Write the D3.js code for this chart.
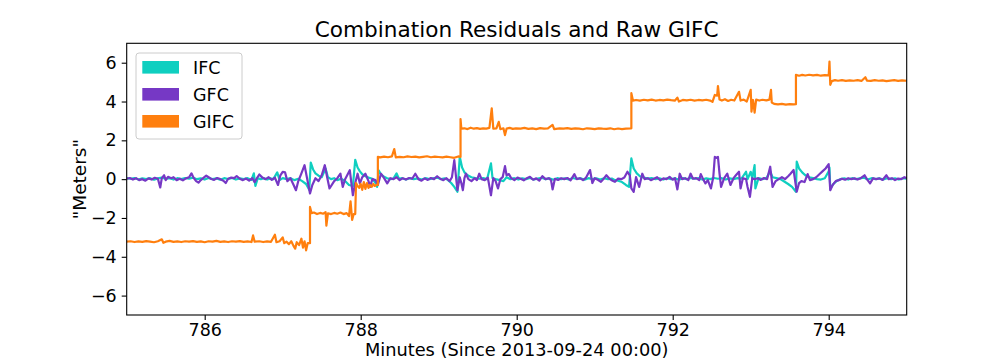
<!DOCTYPE html>
<html>
<head>
<meta charset="utf-8">
<script src="https://cdn.jsdelivr.net/npm/d3@7"></script>
<style>
  html, body { margin: 0; padding: 0; background: #fff; }
  svg { display: block; font-family: "DejaVu Sans", sans-serif; }
</style>
</head>
<body>
<svg id="chart" width="1008" height="360"></svg>
<script>
const xTicks = [786, 788, 790, 792, 794];
const yTicks = [-6, -4, -2, 0, 2, 4, 6];
const seriesNames = ["IFC", "GFC", "GIFC"];
const seriesColors = ["#0fcfc0", "#7638c5", "#ff7f0e"];

// [minute, meters]
const ifcData = [
[785.00,0.05],[785.05,0.02],[785.10,0.06],[785.15,-0.02],[785.20,0.04],[785.25,0.00],[785.30,0.05],[785.35,-0.03],[785.40,0.04],[785.45,0.08],
[785.50,0.02],[785.55,0.05],[785.60,-0.02],[785.65,0.05],[785.70,0.00],[785.75,0.06],[785.80,0.03],[785.85,0.08],[785.90,0.00],[785.95,0.04],
[786.00,-0.02],[786.05,0.06],[786.10,0.00],[786.15,0.04],[786.20,-0.03],[786.25,0.05],[786.30,0.01],[786.35,0.06],[786.40,-0.02],[786.45,0.04],
[786.50,0.00],[786.55,0.05],[786.60,-0.04],[786.63,0.30],[786.65,-0.35],[786.68,0.05],[786.72,0.00],[786.76,0.05],[786.80,-0.02],[786.84,0.04],
[786.88,0.00],[786.93,0.35],[786.96,-0.05],[787.00,0.05],[787.05,0.00],[787.10,0.05],[787.15,-0.05],[787.20,0.02],[787.25,-0.10],[787.30,-0.25],
[787.34,-0.55],[787.36,0.85],[787.39,0.50],[787.42,0.30],[787.46,0.18],[787.50,0.10],[787.55,0.55],[787.58,0.10],[787.62,0.00],[787.66,0.05],
[787.70,-0.05],[787.75,0.02],[787.80,-0.10],[787.85,-0.30],[787.90,-0.35],[787.93,1.00],[787.96,0.60],[787.99,0.40],[788.02,0.25],[788.06,0.15],
[788.10,0.08],[788.15,0.02],[788.19,-0.20],[788.21,-0.40],[788.23,0.45],[788.26,0.25],[788.30,0.12],[788.34,0.05],[788.38,0.00],[788.42,0.03],
[788.46,0.30],[788.49,0.02],[788.53,0.05],[788.58,-0.02],[788.63,0.05],[788.68,0.00],[788.73,0.04],[788.78,-0.02],[788.83,0.05],[788.88,0.00],
[788.93,0.04],[788.98,0.08],[789.03,0.00],[789.08,0.04],[789.12,-0.05],[789.16,-0.20],[789.20,-0.40],[789.24,-0.65],[789.27,1.15],[789.30,0.60],
[789.33,0.35],[789.37,0.20],[789.42,0.10],[789.47,0.05],[789.52,0.02],[789.57,0.05],[789.62,0.00],[789.67,0.81],[789.69,0.05],[789.73,0.00],
[789.78,-0.05],[789.83,-0.10],[789.87,0.10],[789.92,0.00],[789.97,0.05],[790.02,-0.02],[790.07,0.04],[790.12,0.00],[790.17,0.06],[790.22,-0.02],
[790.27,0.03],[790.32,0.07],[790.37,0.00],[790.42,0.04],[790.47,-0.03],[790.52,0.05],[790.57,0.00],[790.62,0.04],[790.67,-0.02],[790.72,0.06],
[790.77,0.01],[790.82,0.04],[790.87,-0.03],[790.92,0.05],[790.97,0.00],[791.02,0.04],[791.07,-0.02],[791.12,0.05],[791.17,0.00],[791.22,0.03],
[791.26,-0.05],[791.30,-0.08],[791.35,-0.15],[791.40,-0.30],[791.44,-0.40],[791.47,1.07],[791.50,0.55],[791.54,0.30],[791.58,0.15],[791.63,0.08],
[791.68,0.03],[791.73,0.05],[791.78,0.00],[791.83,0.04],[791.88,-0.02],[791.93,0.05],[791.98,0.00],[792.03,0.04],[792.08,-0.03],[792.13,0.05],
[792.18,0.00],[792.23,0.06],[792.28,0.02],[792.33,0.05],[792.38,-0.02],[792.43,0.04],[792.48,0.00],[792.53,0.06],[792.58,0.02],[792.63,0.05],
[792.68,-0.02],[792.73,0.04],[792.78,0.00],[792.83,0.05],[792.88,0.02],[792.94,0.38],[792.96,0.00],[793.00,0.38],[793.02,0.05],[793.05,0.72],
[793.06,-0.48],[793.10,0.05],[793.15,0.00],[793.20,0.05],[793.25,0.40],[793.28,0.10],[793.33,0.05],[793.38,0.00],[793.43,-0.12],[793.48,-0.25],
[793.53,-0.40],[793.58,-0.65],[793.59,0.90],[793.62,0.55],[793.66,0.35],[793.70,0.20],[793.75,0.10],[793.80,0.05],[793.85,0.00],[793.90,-0.02],
[793.95,0.05],[794.00,0.40],[794.01,0.60],[794.02,-0.50],[794.06,-0.25],[794.10,-0.10],[794.15,0.00],[794.20,0.04],[794.25,-0.02],[794.30,0.05],
[794.35,0.00],[794.40,0.04],[794.45,0.08],[794.50,-0.02],[794.55,0.05],[794.60,0.00],[794.65,0.04],[794.70,-0.02],[794.75,0.05],[794.80,0.00],
[794.85,0.04],[794.90,-0.02],[794.95,0.05],[795.00,0.02]
];

const gfcData = [
[785.00,0.02],[785.04,0.06],[785.08,-0.02],[785.12,0.05],[785.16,-0.05],[785.20,0.00],[785.24,-0.08],[785.28,0.04],[785.32,-0.02],[785.36,0.07],
[785.40,0.02],[785.43,-0.43],[785.45,0.05],[785.48,0.20],[785.50,-0.05],[785.53,0.12],[785.57,0.05],[785.60,0.10],[785.64,-0.05],[785.68,0.02],
[785.72,-0.06],[785.76,0.04],[785.80,0.10],[785.83,0.30],[785.86,0.05],[785.89,-0.10],[785.92,-0.18],[785.95,-0.05],[785.98,0.05],[786.02,0.18],
[786.05,0.10],[786.08,0.02],[786.12,-0.04],[786.16,0.06],[786.20,0.00],[786.24,-0.08],[786.27,-0.20],[786.30,0.02],[786.34,0.08],[786.38,0.05],
[786.41,0.16],[786.45,0.02],[786.49,-0.05],[786.53,0.03],[786.57,-0.08],[786.61,0.05],[786.64,-0.15],[786.67,0.05],[786.70,0.24],[786.74,0.08],
[786.78,0.00],[786.82,0.10],[786.86,-0.04],[786.90,0.08],[786.94,-0.30],[786.97,0.20],[787.00,0.38],[787.03,0.35],[787.06,-0.10],[787.10,0.05],
[787.14,-0.30],[787.17,-0.57],[787.20,-0.10],[787.24,0.30],[787.28,0.72],[787.31,0.10],[787.35,-0.74],[787.38,-0.30],[787.42,0.05],[787.46,-0.10],
[787.50,0.20],[787.54,0.72],[787.57,0.10],[787.60,-0.48],[787.66,-0.10],[787.70,0.05],[787.74,0.28],[787.77,-0.40],[787.80,0.00],[787.86,0.46],
[787.90,-0.83],[787.93,-0.20],[787.96,0.28],[787.99,-0.22],[788.02,0.10],[788.06,0.28],[788.10,-0.10],[788.12,-0.40],[788.15,0.00],[788.19,-0.05],
[788.22,-0.30],[788.26,0.28],[788.30,0.05],[788.34,-0.22],[788.38,0.05],[788.42,0.00],[788.46,0.10],[788.50,-0.05],[788.54,0.05],[788.58,-0.02],
[788.62,0.06],[788.66,0.02],[788.70,0.28],[788.74,0.00],[788.78,-0.08],[788.82,0.04],[788.86,-0.04],[788.90,0.06],[788.94,0.00],[788.98,0.15],
[789.02,0.02],[789.06,-0.05],[789.10,0.05],[789.14,-0.10],[789.17,0.10],[789.20,0.98],[789.22,0.20],[789.24,-0.57],[789.27,0.10],[789.29,-0.20],
[789.31,-0.57],[789.33,0.05],[789.35,0.28],[789.38,0.00],[789.42,-0.10],[789.46,0.05],[789.49,-0.05],[789.52,0.28],[789.55,0.00],[789.59,-0.05],
[789.63,0.08],[789.67,-0.83],[789.70,0.05],[789.73,-0.10],[789.76,-0.48],[789.79,0.00],[789.82,0.10],[789.85,0.67],[789.87,0.20],[789.90,0.26],
[789.93,0.05],[789.97,-0.05],[790.01,0.08],[790.05,0.02],[790.09,-0.06],[790.13,0.05],[790.17,0.12],[790.21,-0.03],[790.25,0.04],[790.29,-0.08],
[790.33,0.15],[790.37,0.00],[790.41,0.05],[790.44,-0.05],[790.46,-0.53],[790.49,0.02],[790.53,-0.04],[790.57,0.05],[790.61,0.00],[790.65,0.06],
[790.69,-0.06],[790.74,0.26],[790.77,0.00],[790.81,0.05],[790.85,-0.05],[790.89,0.08],[790.94,0.47],[790.97,-0.20],[791.00,0.05],[791.04,-0.03],
[791.08,-0.14],[791.12,0.05],[791.15,0.20],[791.19,0.02],[791.23,-0.08],[791.26,-0.14],[791.30,0.03],[791.34,0.00],[791.38,0.08],[791.42,0.38],
[791.45,0.20],[791.47,-0.48],[791.50,-0.65],[791.53,0.10],[791.57,-0.40],[791.61,0.28],[791.64,0.00],[791.68,0.05],[791.72,-0.05],[791.76,0.02],
[791.80,0.10],[791.84,-0.06],[791.88,0.04],[791.92,0.00],[791.96,0.12],[792.00,-0.03],[792.03,0.05],[792.06,-0.53],[792.09,0.28],[792.12,0.00],
[792.16,0.05],[792.20,-0.05],[792.23,0.28],[792.26,0.02],[792.30,0.05],[792.34,-0.05],[792.36,0.26],[792.39,0.00],[792.42,-0.22],[792.45,-0.05],
[792.49,-0.48],[792.52,0.10],[792.54,1.15],[792.56,1.10],[792.58,1.15],[792.60,0.30],[792.62,-0.40],[792.66,0.05],[792.70,0.28],[792.74,-0.30],
[792.78,0.05],[792.81,0.20],[792.85,0.38],[792.87,-0.48],[792.90,0.05],[792.94,0.00],[792.96,-0.40],[792.99,-0.91],[793.02,0.05],[793.05,0.00],
[793.09,0.05],[793.13,-0.04],[793.17,0.06],[793.21,0.00],[793.25,0.64],[793.28,-0.40],[793.32,-0.10],[793.36,0.00],[793.40,0.10],[793.44,0.00],
[793.48,0.15],[793.51,0.28],[793.55,0.47],[793.59,-0.65],[793.62,-0.20],[793.65,-0.10],[793.69,-0.15],[793.73,0.26],[793.76,-0.05],[793.80,0.00],
[793.84,0.10],[793.88,0.25],[793.92,0.40],[793.96,0.55],[794.00,0.77],[794.02,-0.57],[794.05,-0.30],[794.09,-0.10],[794.13,-0.05],[794.17,0.02],
[794.21,-0.03],[794.25,0.05],[794.29,0.00],[794.33,0.04],[794.37,-0.02],[794.41,0.05],[794.46,0.20],[794.49,0.00],[794.53,-0.22],[794.57,0.05],
[794.61,0.00],[794.65,0.04],[794.69,-0.04],[794.74,0.20],[794.77,0.00],[794.81,0.05],[794.85,-0.05],[794.89,0.03],[794.93,0.00],[794.97,0.10],
[795.00,0.05]
];

const gifcData = [
[785.00,-3.22],[785.05,-3.20],[785.10,-3.24],[785.15,-3.21],[785.20,-3.23],[785.25,-3.19],[785.30,-3.22],[785.35,-3.25],[785.40,-3.20],[785.45,-3.10],
[785.47,-3.28],[785.50,-3.22],[785.55,-3.18],[785.60,-3.23],[785.65,-3.21],[785.70,-3.24],[785.75,-3.20],[785.80,-3.22],[785.85,-3.19],[785.90,-3.23],
[785.95,-3.21],[786.00,-3.25],[786.05,-3.20],[786.10,-3.22],[786.15,-3.18],[786.20,-3.23],[786.25,-3.21],[786.30,-3.24],[786.35,-3.20],[786.40,-3.22],
[786.45,-3.19],[786.50,-3.23],[786.55,-3.21],[786.60,-3.24],[786.62,-2.90],[786.64,-3.22],[786.70,-3.20],[786.75,-3.24],[786.80,-3.21],[786.85,-3.23],
[786.90,-2.86],[786.92,-3.25],[786.96,-3.20],[787.00,-3.00],[787.02,-3.30],[787.05,-3.22],[787.08,-3.35],[787.11,-3.20],[787.14,-3.45],[787.16,-3.58],
[787.18,-3.25],[787.21,-3.40],[787.24,-3.07],[787.26,-3.53],[787.28,-3.20],[787.30,-3.67],[787.32,-3.30],[787.35,-3.30],[787.35,-1.43],[787.37,-1.75],
[787.40,-1.72],[787.44,-1.80],[787.48,-1.74],[787.52,-1.78],[787.55,-1.70],[787.56,-2.40],[787.58,-1.76],[787.62,-1.80],[787.66,-1.74],[787.70,-1.78],
[787.74,-1.72],[787.78,-1.80],[787.82,-1.75],[787.85,-1.90],[787.87,-1.14],[787.89,-2.10],[787.91,-1.80],[787.93,-1.80],[787.94,-0.20],[787.96,-0.35],
[787.98,-0.45],[788.00,-0.25],[788.02,-0.55],[788.04,-0.15],[788.06,-0.50],[788.08,-0.20],[788.10,-0.45],[788.12,-0.30],[788.14,-0.40],[788.16,-0.25],
[788.18,-0.35],[788.20,-0.30],[788.22,-0.30],[788.22,1.15],[788.25,1.12],[788.30,1.16],[788.35,1.13],[788.40,1.17],[788.43,1.55],[788.45,1.12],
[788.50,1.15],[788.55,1.13],[788.60,1.17],[788.65,1.14],[788.70,1.16],[788.75,1.12],[788.80,1.15],[788.85,1.18],[788.90,1.13],[788.95,1.16],
[789.00,1.14],[789.05,1.12],[789.10,1.16],[789.15,1.13],[789.20,1.10],[789.25,1.17],[789.28,1.15],[789.28,3.10],[789.29,2.60],[789.33,2.62],
[789.37,2.58],[789.41,2.65],[789.45,2.60],[789.49,2.63],[789.53,2.59],[789.57,2.62],[789.61,2.60],[789.65,2.64],[789.68,3.65],[789.70,2.60],
[789.74,2.62],[789.77,2.95],[789.79,2.58],[789.83,2.62],[789.85,2.27],[789.87,2.60],[789.91,2.64],[789.95,2.59],[789.99,2.62],[790.05,2.60],
[790.10,2.64],[790.15,2.59],[790.20,2.62],[790.25,2.58],[790.30,2.63],[790.35,2.60],[790.40,2.62],[790.46,2.80],[790.48,2.58],[790.55,2.62],
[790.60,2.60],[790.65,2.63],[790.70,2.59],[790.75,2.62],[790.80,2.60],[790.85,2.57],[790.90,2.62],[790.95,2.60],[791.00,2.58],[791.05,2.62],
[791.10,2.60],[791.15,2.59],[791.20,2.62],[791.25,2.57],[791.30,2.61],[791.35,2.58],[791.40,2.60],[791.46,2.62],[791.47,2.62],[791.47,4.43],
[791.49,4.05],[791.53,4.08],[791.58,4.05],[791.63,4.09],[791.68,4.06],[791.73,4.10],[791.78,4.05],[791.83,4.08],[791.88,4.06],[791.93,4.10],
[791.98,4.07],[792.03,4.05],[792.06,4.20],[792.08,4.00],[792.13,4.08],[792.18,4.06],[792.23,4.09],[792.28,4.05],[792.33,4.08],[792.38,4.06],
[792.43,4.09],[792.48,4.05],[792.51,3.98],[792.54,4.34],[792.57,4.30],[792.58,4.80],[792.60,4.10],[792.63,4.05],[792.67,4.12],[792.71,4.03],
[792.75,4.09],[792.79,4.05],[792.85,4.50],[792.87,4.05],[792.91,4.10],[792.95,4.00],[793.00,4.60],[793.01,3.48],[793.03,4.08],[793.05,3.43],
[793.07,4.10],[793.11,4.05],[793.15,4.09],[793.20,4.06],[793.24,4.10],[793.26,4.60],[793.27,3.95],[793.30,3.88],[793.35,3.85],[793.40,3.88],
[793.45,3.84],[793.50,3.87],[793.55,3.85],[793.58,3.86],[793.58,5.37],[793.62,5.33],[793.66,5.37],[793.70,5.34],[793.75,5.38],[793.80,5.35],
[793.85,5.37],[793.90,5.33],[793.95,5.36],[794.00,5.35],[794.01,6.06],[794.02,4.86],[794.04,5.05],[794.08,5.10],[794.12,5.07],[794.17,5.10],
[794.22,5.06],[794.27,5.09],[794.32,5.07],[794.37,5.10],[794.42,5.06],[794.47,5.25],[794.49,5.08],[794.54,5.06],[794.59,5.10],[794.64,5.07],
[794.69,5.09],[794.74,5.05],[794.79,5.08],[794.84,5.10],[794.89,5.06],[794.94,5.09],[795.00,5.07]
];

const series = [ifcData, gfcData, gifcData];

const svg = d3.select("#chart");
const L = 126.7, R = 906.7, T = 43.3, B = 315;
const x = d3.scaleLinear().domain([785, 795]).range([L, R]);
const y = d3.scaleLinear().domain([-7, 7]).range([B, T]);
const fmt = d => (d < 0 ? "\u2212" + Math.abs(d) : String(d));

svg.append("clipPath").attr("id", "plotclip")
  .append("rect").attr("x", L).attr("y", T).attr("width", R - L).attr("height", B - T);

const line = d3.line().x(d => x(d[0])).y(d => y(d[1]));
const plot = svg.append("g").attr("clip-path", "url(#plotclip)");
series.forEach((s, i) => {
  plot.append("path").datum(s)
    .attr("d", line)
    .attr("fill", "none")
    .attr("stroke", seriesColors[i])
    .attr("stroke-width", 2.2)
    .attr("stroke-linejoin", "round");
});

// axes
const xAxis = svg.append("g").attr("transform", `translate(0,${B})`)
  .call(d3.axisBottom(x).tickValues(xTicks).tickFormat(fmt).tickSize(5).tickPadding(3.6));
const yAxis = svg.append("g").attr("transform", `translate(${L},0)`)
  .call(d3.axisLeft(y).tickValues(yTicks).tickFormat(fmt).tickSize(5).tickPadding(5));
[xAxis, yAxis].forEach(a => {
  a.select(".domain").remove();
  a.selectAll("line").attr("stroke", "#000").attr("stroke-width", 1.1);
  a.selectAll("text").attr("font-family", "DejaVu Sans").attr("font-size", 17.5).attr("fill", "#000");
});

// spines
svg.append("rect").attr("x", L).attr("y", T).attr("width", R - L).attr("height", B - T)
  .attr("fill", "none").attr("stroke", "#000").attr("stroke-width", 1.1);

// title & labels
svg.append("text").attr("x", (L + R) / 2).attr("y", 37).attr("text-anchor", "middle")
  .attr("font-size", 21.6).attr("fill", "#000").text("Combination Residuals and Raw GIFC");
svg.append("text").attr("x", (L + R) / 2).attr("y", 355.6).attr("text-anchor", "middle")
  .attr("font-size", 17.8).attr("fill", "#000").text("Minutes (Since 2013-09-24 00:00)");
svg.append("text").attr("transform", `translate(86,${(T + B) / 2}) rotate(-90)`).attr("text-anchor", "middle")
  .attr("font-size", 18.5).attr("fill", "#000").text("\"Meters\"");

// legend
const lg = svg.append("g");
lg.append("rect").attr("x", 136).attr("y", 53).attr("width", 106).attr("height", 86)
  .attr("rx", 3).attr("fill", "#fff").attr("fill-opacity", 0.8).attr("stroke", "#cccccc").attr("stroke-width", 1);
seriesNames.forEach((n, i) => {
  const cy = 67.3 + i * 27;
  lg.append("rect").attr("x", 142.3).attr("y", cy - 6.3).attr("width", 36.7).attr("height", 12.6).attr("fill", seriesColors[i]);
  lg.append("text").attr("x", 193).attr("y", cy + 6.2).attr("font-size", 17.5).attr("fill", "#000").text(n);
});
</script>
</body>
</html>
